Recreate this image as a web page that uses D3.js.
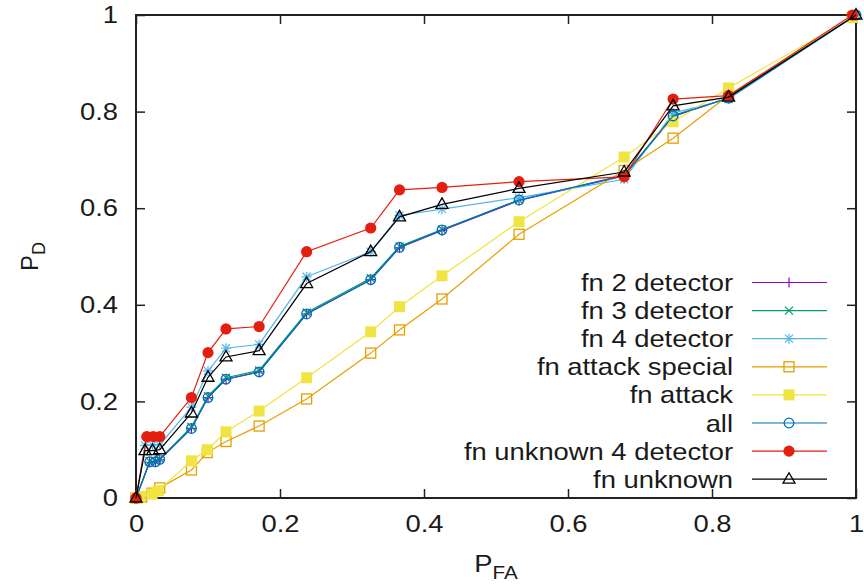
<!DOCTYPE html>
<html>
<head>
<meta charset="utf-8">
<script src="https://cdn.jsdelivr.net/npm/d3@7"></script>
<style>
  html, body { margin: 0; padding: 0; background: #fff; }
  svg { display: block; font-family: "Liberation Sans", Arial, sans-serif; }
</style>
</head>
<body>
<svg id="chart"></svg>
<script>
// Series values as [P_FA, P_D] pairs
const fn2Detector = [[0,0],[0.019,0.074],[0.027,0.075],[0.033,0.079],[0.077,0.144],[0.100,0.208],[0.125,0.246],[0.171,0.261],[0.237,0.381],[0.326,0.452],[0.366,0.518],[0.425,0.554],[0.532,0.616],[0.678,0.667],[0.746,0.790],[0.823,0.828],[1,1]];
const fn3Detector = [[0,0],[0.019,0.076],[0.027,0.077],[0.033,0.081],[0.077,0.147],[0.100,0.211],[0.125,0.249],[0.171,0.264],[0.237,0.384],[0.326,0.455],[0.366,0.521],[0.425,0.556],[0.532,0.617],[0.678,0.668],[0.746,0.792],[0.823,0.828],[1,1]];
const fn4Detector = [[0,0],[0.0125,0.109],[0.023,0.110],[0.033,0.110],[0.077,0.188],[0.100,0.263],[0.125,0.310],[0.171,0.318],[0.237,0.458],[0.326,0.510],[0.366,0.585],[0.425,0.598],[0.532,0.622],[0.678,0.660],[0.746,0.797],[0.823,0.826],[1,1]];
const fnAttackSpecial = [[0,0],[0.008,0.002],[0.022,0.010],[0.033,0.021],[0.077,0.058],[0.099,0.094],[0.125,0.117],[0.171,0.149],[0.237,0.205],[0.326,0.300],[0.366,0.348],[0.425,0.412],[0.532,0.546],[0.678,0.678],[0.746,0.745],[0.823,0.834],[0.995,0.995]];
const fnAttack = [[0,0],[0.006,0.003],[0.022,0.008],[0.031,0.015],[0.077,0.077],[0.099,0.100],[0.125,0.137],[0.171,0.180],[0.237,0.249],[0.326,0.344],[0.366,0.396],[0.425,0.460],[0.532,0.572],[0.678,0.706],[0.746,0.779],[0.823,0.849],[0.995,0.995]];
const allDetectors = [[0,0],[0.019,0.075],[0.027,0.075],[0.033,0.080],[0.077,0.144],[0.100,0.208],[0.125,0.246],[0.171,0.261],[0.237,0.381],[0.326,0.452],[0.366,0.519],[0.425,0.555],[0.532,0.617],[0.678,0.668],[0.746,0.791],[0.823,0.828],[1,1]];
const fnUnknown4Detector = [[0,0],[0.015,0.127],[0.024,0.127],[0.033,0.127],[0.077,0.208],[0.100,0.301],[0.125,0.350],[0.171,0.355],[0.237,0.510],[0.326,0.559],[0.366,0.638],[0.425,0.643],[0.532,0.655],[0.678,0.665],[0.746,0.826],[0.823,0.833],[0.995,1]];
const fnUnknown = [[0,0],[0.0125,0.098],[0.023,0.098],[0.033,0.100],[0.077,0.176],[0.100,0.250],[0.125,0.292],[0.171,0.305],[0.237,0.444],[0.326,0.510],[0.366,0.582],[0.425,0.608],[0.532,0.641],[0.678,0.675],[0.746,0.812],[0.823,0.830],[1,1]];

const seriesNames = ["fn 2 detector", "fn 3 detector", "fn 4 detector", "fn attack special",
                     "fn attack", "all", "fn unknown 4 detector", "fn unknown"];
const seriesValues = [fn2Detector, fn3Detector, fn4Detector, fnAttackSpecial,
                      fnAttack, allDetectors, fnUnknown4Detector, fnUnknown];

const xTicks = [0, 0.2, 0.4, 0.6, 0.8, 1];
const yTicks = [0, 0.2, 0.4, 0.6, 0.8, 1];
const tickLabels = ["0", "0.2", "0.4", "0.6", "0.8", "1"];

// gnuplot style colours and point types
const colors = ["#9400d3", "#009e73", "#56b4e9", "#e69f00", "#f0e442", "#0072b2", "#e51e10", "#000000"];
const markers = ["plus", "cross", "star", "square", "squareFilled", "circle", "circleFilled", "triangle"];

const width = 864;
const height = 586;
const margin = { top: 15, right: 8, bottom: 88, left: 136 };
const fontSize = 23.8;
const stretch = 1.15;

const svg = d3.select("#chart")
    .attr("width", width)
    .attr("height", height);

const xScale = d3.scaleLinear()
    .domain([0, 1])
    .range([margin.left, width - margin.right]);

const yScale = d3.scaleLinear()
    .domain([0, 1])
    .range([height - margin.bottom, margin.top]);

const fmt = d => tickLabels[xTicks.indexOf(d)];

// Axes with inward ticks on all four sides
const xAxis = svg.append("g")
    .attr("transform", `translate(0, ${yScale(0)})`)
    .call(d3.axisBottom(xScale).tickValues(xTicks).tickFormat(fmt).tickSizeInner(-9).tickSizeOuter(0).tickPadding(17));

svg.append("g")
    .attr("transform", `translate(0, ${yScale(1)})`)
    .call(d3.axisTop(xScale).tickValues(xTicks).tickFormat("").tickSizeInner(-9).tickSizeOuter(0));

const yAxis = svg.append("g")
    .attr("transform", `translate(${xScale(0)}, 0)`)
    .call(d3.axisLeft(yScale).tickValues(yTicks).tickFormat(fmt).tickSizeInner(-9).tickSizeOuter(0).tickPadding(18));

svg.append("g")
    .attr("transform", `translate(${xScale(1)}, 0)`)
    .call(d3.axisRight(yScale).tickValues(yTicks).tickFormat("").tickSizeInner(-9).tickSizeOuter(0));

svg.selectAll(".domain").remove();
svg.selectAll(".tick line").attr("stroke", "#222").attr("stroke-width", 1.5);

xAxis.selectAll("text")
    .attr("fill", "#1a1a1a")
    .style("font-size", fontSize + "px")
    .attr("transform", `scale(${stretch},1)`);

yAxis.selectAll("text")
    .attr("fill", "#1a1a1a")
    .style("font-size", fontSize + "px")
    .attr("x", -18 / stretch)
    .attr("transform", `scale(${stretch},1)`);

// Plot border
svg.append("rect")
    .attr("x", xScale(0))
    .attr("y", yScale(1))
    .attr("width", xScale(1) - xScale(0))
    .attr("height", yScale(0) - yScale(1))
    .attr("fill", "none")
    .attr("stroke", "#222")
    .attr("stroke-width", 2);

// Marker drawing
function drawMarker(g, type, color) {
    const s = 5;
    if (type === "plus" || type === "star") {
        g.append("path").attr("d", `M${-s},0H${s}M0,${-s}V${s}`).attr("stroke", color).attr("stroke-width", 1.2);
    }
    if (type === "cross" || type === "star") {
        const c = 4;
        g.append("path").attr("d", `M${-c},${-c}L${c},${c}M${-c},${c}L${c},${-c}`).attr("stroke", color).attr("stroke-width", 1.2);
    }
    if (type === "square") {
        g.append("rect").attr("x", -5).attr("y", -5).attr("width", 10).attr("height", 10)
            .attr("fill", "none").attr("stroke", color).attr("stroke-width", 1.3);
    }
    if (type === "squareFilled") {
        g.append("rect").attr("x", -5.5).attr("y", -5.5).attr("width", 11).attr("height", 11).attr("fill", color);
    }
    if (type === "circle") {
        g.append("circle").attr("r", 4.8).attr("fill", "none").attr("stroke", color).attr("stroke-width", 1.3);
    }
    if (type === "circleFilled") {
        g.append("circle").attr("r", 5.6).attr("fill", color);
    }
    if (type === "triangle") {
        g.append("path").attr("d", "M0,-6.5L6,4L-6,4Z").attr("fill", "none").attr("stroke", color).attr("stroke-width", 1.3);
    }
}

const line = d3.line()
    .x(d => xScale(d[0]))
    .y(d => yScale(d[1]));

// Draw the series lines and points
seriesValues.forEach(function (values, i) {
    const g = svg.append("g").attr("class", "series");
    g.append("path")
        .datum(values)
        .attr("d", line)
        .attr("fill", "none")
        .attr("stroke", colors[i])
        .attr("stroke-width", 1.2);

    g.selectAll(".pt")
        .data(values)
        .enter()
        .append("g")
        .attr("class", "pt")
        .attr("transform", d => `translate(${xScale(d[0])}, ${yScale(d[1])})`)
        .each(function () { drawMarker(d3.select(this), markers[i], colors[i]); });
});

// Legend
const legendTop = 282.5;
const legendStep = 28.1;
const legend = svg.append("g").attr("class", "legend");
seriesNames.forEach(function (name, i) {
    const y = legendTop + i * legendStep;
    const row = legend.append("g");
    row.append("text")
        .attr("transform", `translate(733, ${y}) scale(${stretch},1)`)
        .attr("dy", "0.36em")
        .style("font-size", fontSize + "px")
        .style("text-anchor", "end")
        .attr("fill", "#1a1a1a")
        .text(name);
    row.append("line")
        .attr("x1", 752).attr("x2", 827)
        .attr("y1", y).attr("y2", y)
        .attr("stroke", colors[i])
        .attr("stroke-width", 1.2);
    const m = row.append("g").attr("transform", `translate(789, ${y})`);
    drawMarker(m, markers[i], colors[i]);
});

// Axis titles
const xTitle = svg.append("text")
    .attr("transform", `translate(${(xScale(0) + xScale(1)) / 2}, 572) scale(${stretch},1)`)
    .style("font-size", fontSize + "px")
    .style("text-anchor", "middle")
    .attr("fill", "#1a1a1a");
xTitle.append("tspan").text("P");
xTitle.append("tspan").attr("dy", 7).style("font-size", "18px").text("FA");

const yTitle = svg.append("text")
    .attr("transform", `translate(38, ${yScale(0.5)}) rotate(-90)`)
    .style("font-size", fontSize + "px")
    .style("text-anchor", "middle")
    .attr("fill", "#1a1a1a");
yTitle.append("tspan").text("P");
yTitle.append("tspan").attr("dy", 7).style("font-size", "18px").text("D");
</script>
</body>
</html>
